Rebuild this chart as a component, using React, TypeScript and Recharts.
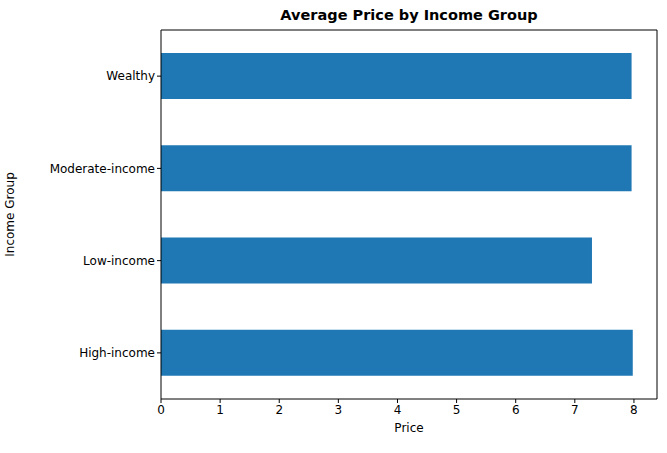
import { BarChart, Bar, XAxis, YAxis } from 'recharts';

const groups = ['Wealthy', 'Moderate-income', 'Low-income', 'High-income'];
const prices = [7.96, 7.96, 7.29, 7.98];
const priceTicks = [0, 1, 2, 3, 4, 5, 6, 7, 8];

const data = groups.map((g, i) => ({ group: g, price: prices[i] }));

const font = 'DejaVu Sans, sans-serif';

export default function App() {
  document.body.style.margin = '0';
  return (
    <div style={{ position: 'relative', width: 667, height: 453, background: '#fff', fontFamily: font }}>
      <div style={{ position: 'absolute', top: 7, left: 161, width: 496, textAlign: 'center', fontWeight: 'bold', fontSize: 14.5 }}>
        Average Price by Income Group
      </div>
      <BarChart
        width={667}
        height={453}
        data={data}
        layout="vertical"
        margin={{ top: 30, right: 10, left: 0, bottom: 0 }}
        barCategoryGap="25%"
      >
        <XAxis
          type="number"
          domain={[0, 8.39]}
          ticks={priceTicks}
          allowDataOverflow
          stroke="#000"
          tickLine={{ stroke: '#000' }}
          tickSize={4}
          height={54}
          tick={{ fill: '#000', fontSize: 12, fontFamily: font }}
          label={{ value: 'Price', position: 'insideTop', offset: 24, style: { fill: '#000', fontSize: 12, fontFamily: font } }}
        />
        <YAxis
          type="category"
          dataKey="group"
          width={161}
          stroke="#000"
          tickSize={4}
          tick={{ fill: '#000', fontSize: 12, fontFamily: font }}
          label={{ value: 'Income Group', angle: -90, position: 'insideLeft', offset: 10, style: { fill: '#000', fontSize: 12, fontFamily: font, textAnchor: 'middle' } }}
        />
        <Bar dataKey="price" fill="#1f77b4" isAnimationActive={false} />
        <line x1={657} y1={30} x2={657} y2={399} stroke="#000" />
        <line x1={161} y1={30} x2={657} y2={30} stroke="#000" />
      </BarChart>
    </div>
  );
}
